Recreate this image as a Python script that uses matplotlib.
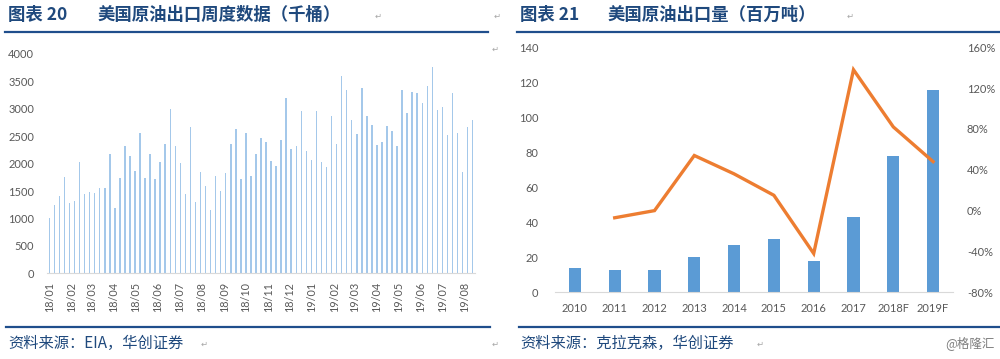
import matplotlib.pyplot as plt
import numpy as np
import pandas as pd
from matplotlib.lines import Line2D
from matplotlib.ticker import FuncFormatter

# weekly US crude exports, thousand barrels (18/01 - 19/08)
weekly_kbbl = [1003, 1240, 1404, 1757, 1277, 1319, 2036, 1441, 1483, 1471,
               1562, 1562, 2170, 1198, 1745, 2328, 2140, 1866, 2553, 1745,
               2170, 1714, 2024, 2359, 2997, 2328, 2012, 1453, 2675, 1307,
               1842, 1593, 1149, 1769, 1502, 1824, 2359, 2632, 1714, 2565,
               1775, 2176, 2474, 2395, 2043, 1964, 2432, 3198, 2267, 2316,
               2960, 2231, 2067, 2960, 2030, 1939, 2869, 2353, 3599, 3343,
               2796, 2547, 3386, 2875, 2711, 2340, 2395, 2681, 2602, 2322,
               3337, 2918, 3307, 3295, 3112, 3416, 3763, 2979, 3033, 2529,
               3283, 2565, 1854, 2675, 2796]
week_start = '2018-01-01'

# annual exports (million tonnes) and yoy growth
years = ['2010', '2011', '2012', '2013', '2014', '2015', '2016', '2017', '2018F', '2019F']
exports_mt = [13.7, 13.0, 13.0, 20.0, 27.0, 30.7, 17.9, 42.9, 77.9, 115.6]
yoy_pct = [np.nan, -7, 0, 54, 36, 15, -42, 138, 82, 48]

CJK = ['Noto Sans CJK SC', 'DejaVu Sans']
NUM = ['Lato', 'DejaVu Sans']
TITLE_C = '#1F497D'
RULE_C = '#1F4E8C'
GRAY = '#595959'
MARK_C = '#A6A6A6'

fig = plt.figure(figsize=(10, 3.59), dpi=100)

# ---- left: weekly bars ----
ax1 = fig.add_axes([0.0468, 0.2387, 0.4284, 0.6109])
x = np.arange(len(weekly_kbbl))
ax1.bar(x, weekly_kbbl, width=0.3, color='#A4C8EA')
ax1.set_xlim(-0.5, len(weekly_kbbl) - 0.5)
ax1.set_ylim(0, 4000)
ax1.set_yticks(range(0, 4001, 500))
d0 = pd.Timestamp(week_start)
months = pd.date_range('2018-01-01', '2019-08-01', freq='MS')
ax1.set_xticks([(m - d0).days / 7 for m in months])
ax1.set_xticklabels([m.strftime('%y/%m') for m in months], rotation=90)
for s in ['top', 'right', 'left']:
    ax1.spines[s].set_visible(False)
ax1.spines['bottom'].set_color('#D9D9D9')
ax1.tick_params(axis='y', length=0, pad=9, labelsize=8, labelcolor=GRAY)
ax1.tick_params(axis='x', length=0, pad=6, labelsize=7.8, labelcolor=GRAY)
for lab in ax1.get_xticklabels() + ax1.get_yticklabels():
    lab.set_family(NUM)

# ---- right: annual bars + yoy line ----
ax2 = fig.add_axes([0.555, 0.1858, 0.398, 0.6825])
xi = np.arange(len(years))
ax2.bar(xi, exports_mt, width=0.31, color='#5B9BD5')
ax2.set_xlim(-0.5, len(years) - 0.5)
ax2.set_ylim(0, 140)
ax2.set_yticks(range(0, 141, 20))
ax2.set_xticks(xi)
ax2.set_xticklabels(years)
for s in ['top', 'right', 'left']:
    ax2.spines[s].set_visible(False)
ax2.spines['bottom'].set_color('#D9D9D9')
ax2.tick_params(axis='y', length=0, pad=12, labelsize=8, labelcolor=GRAY)
ax2.tick_params(axis='x', length=0, pad=8, labelsize=8, labelcolor=GRAY)

ax3 = ax2.twinx()
ax3.plot(xi, yoy_pct, color='#ED7D31', lw=2.4, solid_joinstyle='miter')
ax3.set_ylim(-80, 160)
ax3.set_yticks(range(-80, 161, 40))
ax3.yaxis.set_major_formatter(FuncFormatter(lambda v, p: f'{v:.0f}%'))
for s in ['top', 'right', 'left', 'bottom']:
    ax3.spines[s].set_visible(False)
ax3.tick_params(axis='y', length=0, pad=10, labelsize=8, labelcolor=GRAY)
for lab in ax2.get_xticklabels() + ax2.get_yticklabels() + ax3.get_yticklabels():
    lab.set_family(NUM)

# ---- titles, rules, footers ----
def ypx(p):
    return 1 - p / 359

fig.text(0.008, ypx(15), '图表 20', family=CJK, fontsize=12.5, weight='bold',
         color=TITLE_C, va='center')
fig.text(0.097, ypx(15), '美国原油出口周度数据（千桶）', family=CJK, fontsize=12.5,
         weight='bold', color=TITLE_C, va='center')
fig.text(0.52, ypx(15), '图表 21', family=CJK, fontsize=12.5, weight='bold',
         color=TITLE_C, va='center')
fig.text(0.608, ypx(15), '美国原油出口量（百万吨）', family=CJK, fontsize=12.5,
         weight='bold', color=TITLE_C, va='center')

for xs, xe in [(0.005, 0.488), (0.517, 1.0)]:
    fig.add_artist(Line2D([xs, xe], [ypx(31.5)] * 2, color=RULE_C, lw=1.6))
for xs, xe in [(0.006, 0.490), (0.519, 1.0)]:
    fig.add_artist(Line2D([xs, xe], [ypx(327)] * 2, color=RULE_C, lw=1.6))

fig.text(0.008, ypx(343), '资料来源：EIA，华创证券', family=CJK, fontsize=11,
         style='italic', color=TITLE_C, va='center')
fig.text(0.52, ypx(343), '资料来源：克拉克森，华创证券', family=CJK, fontsize=11,
         style='italic', color=TITLE_C, va='center')
fig.text(0.995, ypx(343), '@格隆汇', family=CJK, fontsize=9, color='#7F7F7F',
         va='center', ha='right')

# word paragraph marks
for px, py in [(378, 16), (497, 16), (495, 49), (850, 16), (204, 344), (495, 344), (760, 344)]:
    fig.text(px / 1000, ypx(py), '↵', family=CJK, fontsize=6, color=MARK_C,
             va='center', ha='center')

fig.savefig('out.png', dpi=100)
